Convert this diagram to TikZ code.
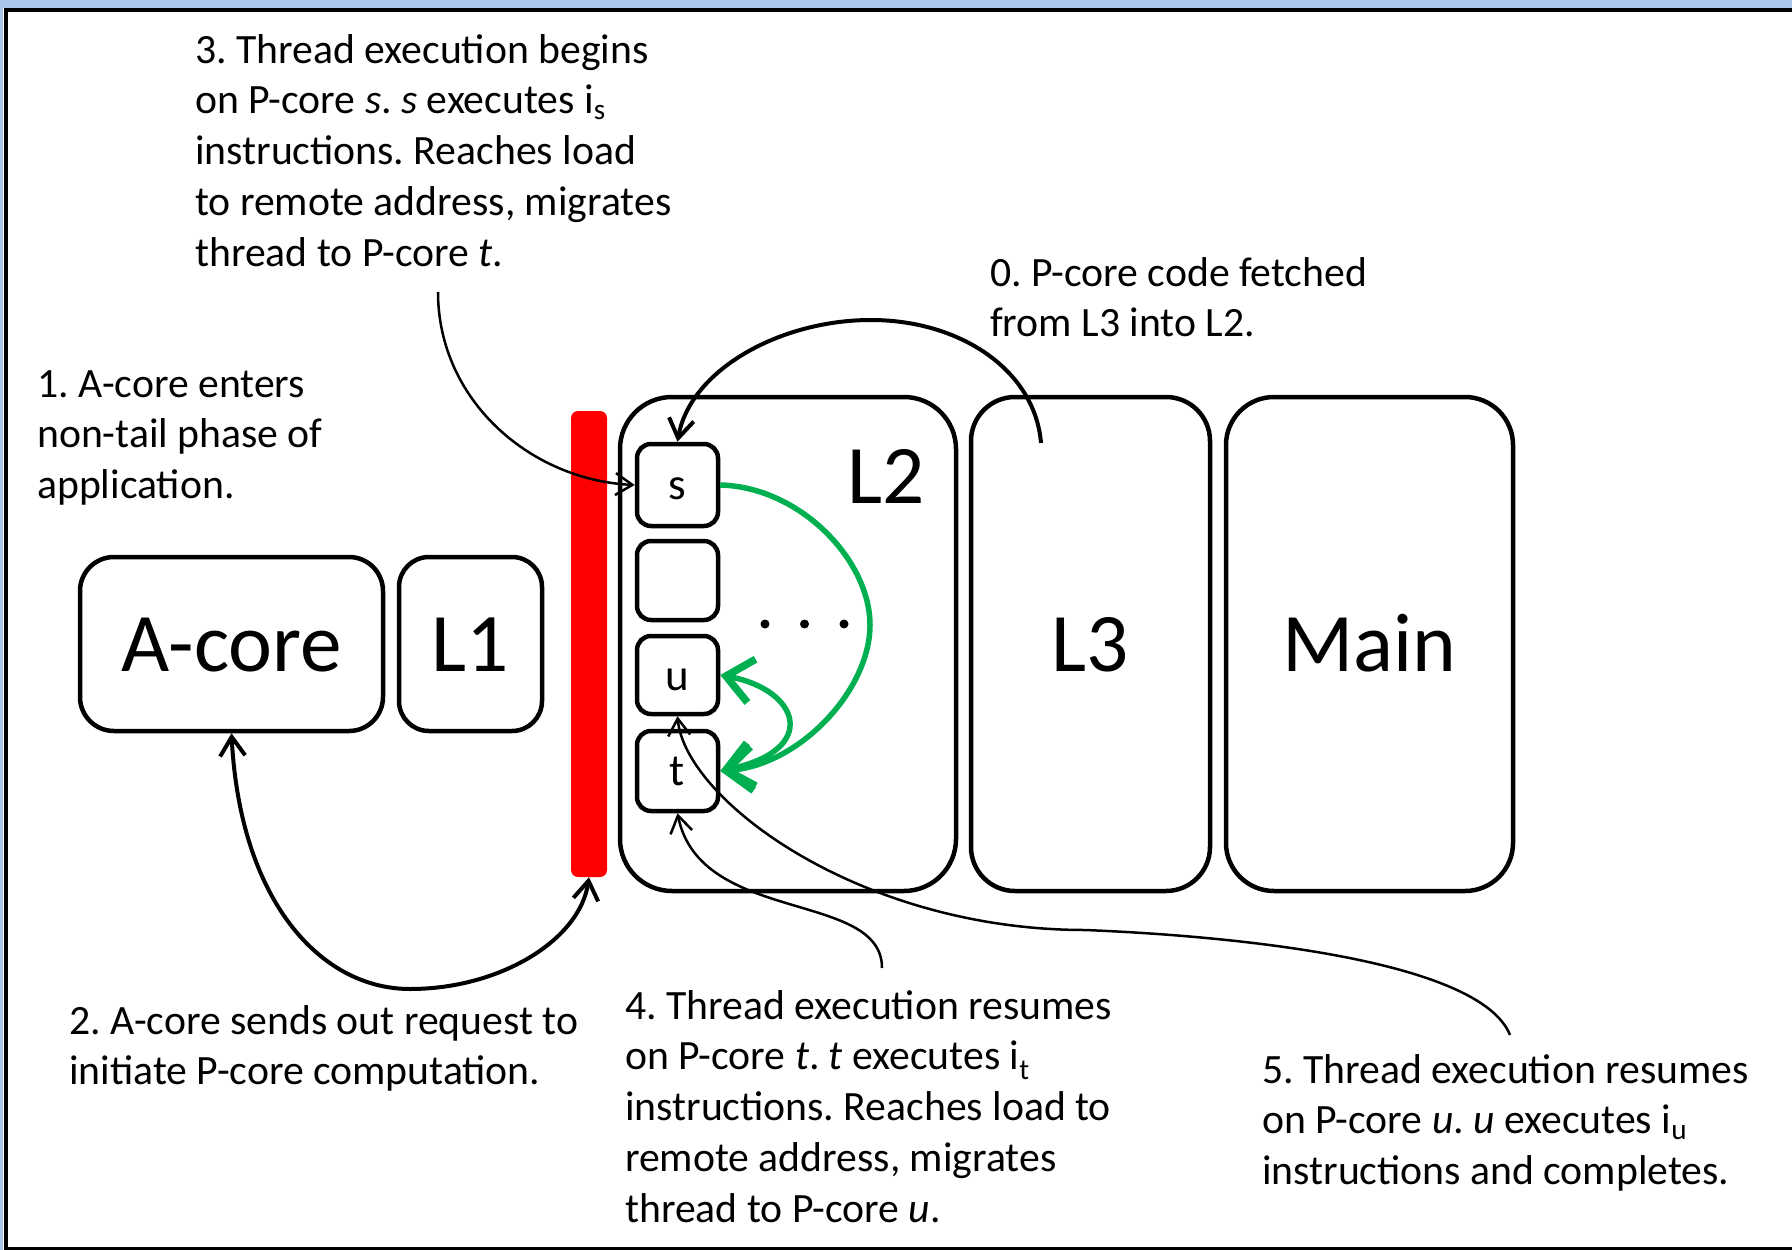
\documentclass[tikz,border=0pt]{standalone}
\usepackage{fontspec}
\setmainfont{Carlito}
\usetikzlibrary{arrows.meta}
\definecolor{framebl}{RGB}{169,198,235}
\definecolor{arcgreen}{RGB}{0,176,80}

\tikzset{
  gtip/.tip={Straight Barb[length=26pt,width=44pt,line width=7.5pt]},
  btip/.tip={Straight Barb[length=17pt,width=22pt]},
  Btip/.tip={Straight Barb[length=19pt,width=25pt]}
}

\begin{document}
\frenchspacing
\begin{tikzpicture}[x=1pt,y=-1pt,
  box/.style={draw, line width=4.5pt, rounded corners=#1, inner sep=0pt},
  box/.default=14pt,
  biglbl/.style={anchor=base, inner sep=0pt, font=\fontsize{83.3}{100}\selectfont},
  smalllbl/.style={anchor=base, inner sep=0pt, font=\fontsize{45}{54}\selectfont},
  % notes are anchored at the baseline of their last line
  note/.style={anchor=base west, inner sep=0pt, align=left, font=\fontsize{41.7}{50.9}\selectfont\frenchspacing},
  thinarrow/.style={line width=2.5pt, -{btip}},
  thickarrow/.style={line width=4pt, -{Btip}},
  greenline/.style={draw=arcgreen, line width=5.5pt}
]
\useasboundingbox (0,0) rectangle (1792,1250);

% window frame
\fill[framebl] (0,0) rectangle (1792,8);
\fill[framebl] (0,0) rectangle (3,1250);
\draw[line width=4.5pt] (1792,10) -- (5.8,10) -- (5.8,1249.5) -- (1792,1249.5);

% memory hierarchy
\node[box=34pt, minimum width=303pt, minimum height=174pt] (acore) at (231.5,644) {};
\node[box=30pt, minimum width=143pt, minimum height=174pt] (l1) at (470.5,644) {};
\node[fill=red, rounded corners=7pt, inner sep=0pt, minimum width=36pt, minimum height=466pt] (bar) at (589,644) {};
\node[box=52pt, minimum width=336pt, minimum height=494pt] (l2) at (788,644) {};
\node[box=44pt, minimum width=239pt, minimum height=494pt] (l3) at (1090.5,644) {};
\node[box=48pt, minimum width=287pt, minimum height=494pt] (mainm) at (1369.5,644) {};

% P-cores inside L2
\node[box, minimum width=81pt, minimum height=82pt] (s) at (677.5,485) {};
\node[box, minimum width=81pt, minimum height=79pt] (e) at (677.5,580.5) {};
\node[box, minimum width=81pt, minimum height=78pt] (u) at (677.5,675) {};
\node[box, minimum width=81pt, minimum height=80pt] (t) at (677.5,771) {};

% labels
\node[biglbl] (acorelbl) at (231.5,671) {A-core};
\node[biglbl] (l1lbl) at (470.5,671) {L1};
\node[biglbl] (l2lbl) at (886,503) {L2};
\node[biglbl] (l3lbl) at (1090.5,671) {L3};
\node[biglbl] (mainlbl) at (1369.5,671) {Main};
\node[smalllbl] (slbl) at (677.5,499) {s};
\node[smalllbl] (ulbl) at (677.5,690) {u};
\node[smalllbl] (tlbl) at (677.5,785) {t};
\fill (765,624) circle (4.5pt);
\fill (804.5,624) circle (4.5pt);
\fill (844,624) circle (4.5pt);

% step descriptions
\node[note] (n3) at (195,266.6) {3. Thread execution begins\\
on P-core \textit{s}. \textit{s} executes i\textsubscript{s}\\
instructions. Reaches load\\
to remote address, migrates\\
thread to P-core \textit{t}.};
\node[note] (n0) at (990,336.9) {0. P-core code fetched\\
from L3 into L2.};
\node[note] (n1) at (37,498.8) {1. A-core enters\\
non-tail phase of\\
application.};
\node[note] (n2) at (69,1084.9) {2. A-core sends out request to\\
initiate P-core computation.};
\node[note] (n4) at (625,1222.6) {4. Thread execution resumes\\
on P-core \textit{t}. \textit{t} executes i\textsubscript{t}\\
instructions. Reaches load to\\
remote address, migrates\\
thread to P-core \textit{u}.};
\node[note] (n5) at (1262,1184.8) {5. Thread execution resumes\\
on P-core \textit{u}. \textit{u} executes i\textsubscript{u}\\
instructions and completes.};

% free ends of the connectors
\coordinate (c0) at (1041,443);
\coordinate (c3) at (438,292);
\coordinate (c4) at (882,968);
\coordinate (c5) at (1510,1035);

% connectors
\draw[thickarrow] (c0) .. controls (1035,370) and (960,320) .. (871,320)
  .. controls (780,320) and (690,370) .. (s.north);
\draw[thinarrow] (c3) .. controls (438,400) and (530,480) .. (s.west);
\draw[line width=4pt, {Btip}-{Btip}]
  (acore.south) .. controls (240,900) and (320,989) .. (410,989)
  .. controls (500,989) and (580,940) .. (bar.south);
\draw[thinarrow] (c4) .. controls (882,890) and (700,925) .. (t.south);
\draw[thinarrow] (c5) .. controls (1480,960) and (1235,936) .. (1085,930)
  .. controls (860,930) and (685,800) .. (u.south);

% thread migrations between P-cores
\draw[greenline, -{gtip}] (s.east) .. controls (800,487) and (870,560) .. (870,625)
  .. controls (870,690) and (800,765) .. (t.east);
\draw[greenline, {gtip}-{gtip}] (u.east) .. controls (800,690) and (820,750) .. (t.east);
\end{tikzpicture}
\end{document}
